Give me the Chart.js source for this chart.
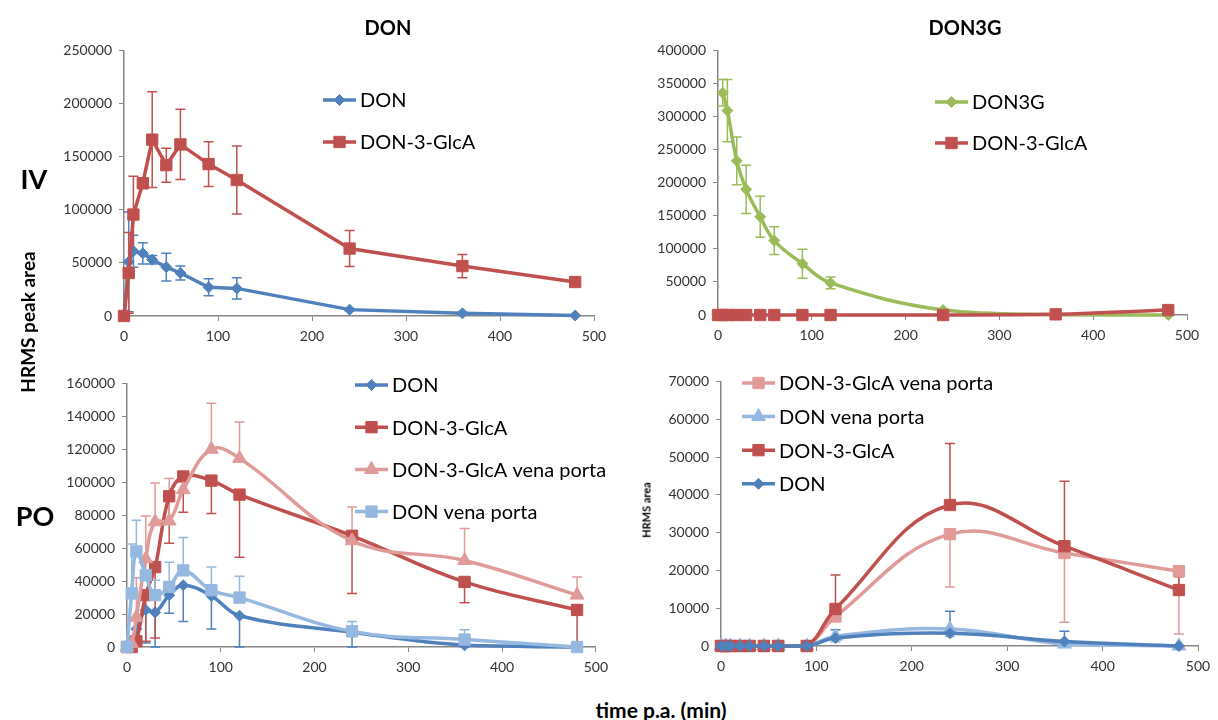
<!DOCTYPE html>
<html>
<head>
<meta charset="utf-8">
<script src="https://cdn.jsdelivr.net/npm/chart.js@4.4.1/dist/chart.umd.min.js"></script>
<style>
body { margin: 0; background: #fff; font-family: Lato, "Open Sans", sans-serif; }
#page { position: relative; width: 1218px; height: 720px; overflow: hidden; background: #fff; }
canvas { position: absolute; }
.lbl { position: absolute; font-weight: bold; color: #000; white-space: nowrap; transform: translate(-50%, -50%); }
.rot { transform: translate(-50%, -50%) rotate(-90deg); }
</style>
</head>
<body>
<div id="page">
  <canvas id="ivDonChart" width="575" height="330" style="left:40px;top:35px"></canvas>
  <canvas id="ivD3gChart" width="570" height="330" style="left:640px;top:35px"></canvas>
  <canvas id="poDonChart" width="575" height="312" style="left:40px;top:368px"></canvas>
  <canvas id="poD3gChart" width="578" height="314" style="left:640px;top:366px"></canvas>

  <div class="lbl" style="left:388px;top:27px;font-size:20px">DON</div>
  <div class="lbl" style="left:965px;top:27px;font-size:20px">DON3G</div>
  <div class="lbl" style="left:34px;top:178px;font-size:27px">IV</div>
  <div class="lbl" style="left:35px;top:515px;font-size:27px">PO</div>
  <div class="lbl rot" style="left:27px;top:322px;font-size:19px">HRMS peak area</div>
  <div class="lbl" style="left:661px;top:709px;font-size:21px">time p.a. (min)</div>
  <div class="lbl rot" style="left:646px;top:510px;font-size:11px">HRMS area</div>
</div>
<script>
// sampling times (min)
var times = [0, 5, 10, 20, 30, 45, 60, 90, 120, 240, 360, 480];

// IV - DON
var ivDon = [0, 51000, 61000, 59000, 53000, 46000, 40500, 27000, 26000, 6000, 2500, 500];
var ivDonErr = [0, 47000, 15000, 10000, 4000, 13000, 6500, 8000, 10000, 1000, 1000, 0];
var ivGlca = [0, 40500, 95500, 125000, 166000, 142000, 161500, 143000, 128000, 63500, 47000, 32000];
var ivGlcaErr = [0, 38000, 36000, 5000, 45000, 16000, 33000, 21000, 32000, 17000, 11000, 0];

// IV - DON3G
var ivD3g = [null, 336000, 309000, 233000, 190000, 148500, 112500, 77500, 48500, 7500, 500, 0];
var ivD3gErr = [0, 20000, 47000, 36000, 36500, 31000, 21000, 22000, 9000, 0, 0, 0];
var ivD3gGlca = [0, 0, 0, 0, 0, 0, 0, 0, 0, 0, 1000, 7500];

// PO - DON
var poDon = [0, 4000, 11000, 22500, 21000, 31500, 37500, 31000, 19000, 9000, 1000, 0];
var poDonErr = [0, 3000, 8000, 20000, 21000, 11000, 22000, 20000, 19000, 9000, 1000, 0];
var poGlca = [0, 0, 3500, 31500, 48500, 91500, 103500, 101000, 92500, 67500, 39500, 22500];
var poGlcaErr = [0, 0, 3000, 28000, 43000, 28600, 21700, 20000, 38000, 35000, 12600, 22500];
var poGlcaVp = [0, 2000, 18000, 53500, 76000, 76500, 95500, 120000, 114500, 64500, 52500, 31500];
var poGlcaVpErr = [0, 0, 24000, 26000, 23500, 25800, 10000, 28000, 22000, 20500, 19500, 11000];
var poDonVp = [0, 32500, 58000, 43500, 31500, 36500, 46500, 34500, 30000, 9500, 4500, 0];
var poDonVpErr = [0, 30000, 19000, 8000, 9000, 15000, 20000, 14000, 13000, 6000, 6000, 0];

// PO - DON3G
var po3Don = [0, 0, 0, 0, 0, 0, 0, 0, 2100, 3400, 1200, 0];
var po3DonErr = [0, 0, 0, 0, 0, 0, 0, 0, 2200, 5800, 2700, 0];
var po3DonVp = [0, 0, 0, 0, 0, 0, 0, 0, 2600, 4500, 500, 0];
var po3DonVpErr = [0, 0, 0, 0, 0, 0, 0, 0, 1500, 2000, 1000, 0];
var po3Glca = [0, 0, 0, 0, 0, 0, 0, 0, 9800, 37300, 26400, 14800];
var po3GlcaErr = [0, 0, 0, 0, 0, 0, 0, 0, 9000, 16300, 17200, 3500];
var po3GlcaVp = [0, 0, 0, 0, 0, 0, 0, 0, 7800, 29600, 24600, 19800];
var po3GlcaVpErr = [0, 0, 0, 0, 0, 0, 0, 0, 1000, 14000, 18300, 16600];

var BLUE = '#4F81BD', RED = '#C0504D', GREEN = '#9BBB59', LRED = '#E09A98', LBLUE = '#95B8E0';

Chart.defaults.font.family = 'Lato, "Open Sans", sans-serif';
Chart.defaults.font.size = 14;
Chart.defaults.color = '#333';

var errorBars = {
  id: 'errorBars',
  beforeDatasetsDraw: function (chart) {
    var ctx = chart.ctx, ys = chart.scales.y;
    ctx.save();
    chart.data.datasets.forEach(function (ds, i) {
      if (!ds.errors) return;
      var meta = chart.getDatasetMeta(i);
      ctx.strokeStyle = ds.borderColor;
      ctx.lineWidth = 1.5;
      ds.errors.forEach(function (e, j) {
        var v = ds.data[j].y;
        if (!e || v === null) return;
        var x = meta.data[j].x;
        var hi = ds.errDir === 'minus' ? v : v + e;
        var lo = ds.errDir === 'plus' ? v : v - e;
        var yHi = ys.getPixelForValue(Math.min(hi, ys.max));
        var yLo = ys.getPixelForValue(Math.max(lo, ys.min));
        ctx.beginPath();
        ctx.moveTo(x, yHi);
        ctx.lineTo(x, yLo);
        if (ds.errDir !== 'minus' && hi <= ys.max) { ctx.moveTo(x - 5, yHi); ctx.lineTo(x + 5, yHi); }
        if (ds.errDir !== 'plus' && lo >= ys.min) { ctx.moveTo(x - 5, yLo); ctx.lineTo(x + 5, yLo); }
        ctx.stroke();
      });
    });
    ctx.restore();
  }
};

var sideLegend = {
  id: 'sideLegend',
  afterDraw: function (chart, args, opts) {
    var ctx = chart.ctx;
    ctx.save();
    chart.data.datasets.forEach(function (ds, i) {
      var y = opts.y + i * opts.gap;
      ctx.strokeStyle = ds.borderColor;
      ctx.lineWidth = ds.borderWidth;
      ctx.beginPath();
      ctx.moveTo(opts.x, y);
      ctx.lineTo(opts.x + 33, y);
      ctx.stroke();
      ctx.fillStyle = ds.borderColor;
      ctx.lineWidth = 1;
      Chart.helpers.drawPoint(ctx, { pointStyle: ds.pointStyle, radius: ds.pointRadius, rotation: 0, borderWidth: 1 }, opts.x + 16.5, y);
      ctx.fillStyle = '#000';
      ctx.font = '20px Lato, "Open Sans", sans-serif';
      ctx.textBaseline = 'middle';
      ctx.fillText(ds.label, opts.x + 37, y + 1);
    });
    ctx.restore();
  }
};

function series(label, vals, errs, color, style, radius, dir) {
  return {
    label: label,
    data: times.map(function (t, i) { return { x: t, y: vals[i] }; }),
    errors: errs,
    errDir: dir,
    borderColor: color,
    backgroundColor: color,
    borderWidth: 3.5,
    pointStyle: style,
    pointRadius: radius,
    pointHoverRadius: radius,
    pointBackgroundColor: color,
    pointBorderColor: color,
    pointBorderWidth: 1,
    clip: false
  };
}

function panel(id, box, area, yMax, yStep, tension, datasets, legend) {
  datasets.forEach(function (d, i) { d.order = datasets.length - i; d.tension = tension; });
  var axisGrid = { drawOnChartArea: false, drawTicks: true, tickLength: 5, color: '#868686' };
  return new Chart(document.getElementById(id).getContext('2d'), {
    type: 'line',
    data: { datasets: datasets },
    options: {
      responsive: false,
      animation: false,
      layout: {
        autoPadding: false,
        padding: { left: 0, top: area.top - box.top, right: box.left + box.w - area.right, bottom: 0 }
      },
      plugins: { legend: { display: false }, tooltip: { enabled: false }, sideLegend: legend },
      scales: {
        x: {
          type: 'linear', min: 0, max: 500,
          ticks: { stepSize: 100, padding: 7 },
          grid: axisGrid,
          border: { color: '#868686', width: 1.5 },
          afterFit: function (s) { s.height = box.top + box.h - area.bottom; }
        },
        y: {
          min: 0, max: yMax,
          ticks: { stepSize: yStep, padding: 7, callback: function (v) { return v; } },
          grid: axisGrid,
          border: { color: '#868686', width: 1.5 },
          afterFit: function (s) { s.width = area.left - box.left; }
        }
      }
    },
    plugins: [errorBars, sideLegend]
  });
}

panel('ivDonChart', { left: 40, top: 35, w: 575, h: 330 }, { left: 124, top: 48, right: 594, bottom: 316 }, 250000, 50000, 0, [
  series('DON', ivDon, ivDonErr, BLUE, 'rectRot', 5.5, 'both'),
  series('DON-3-GlcA', ivGlca, ivGlcaErr, RED, 'rect', 8, 'both')
], { x: 283, y: 65, gap: 42 });

panel('ivD3gChart', { left: 640, top: 35, w: 570, h: 330 }, { left: 718, top: 47, right: 1187, bottom: 315 }, 400000, 50000, 0.4, [
  series('DON3G', ivD3g, ivD3gErr, GREEN, 'rectRot', 5.5, 'both'),
  series('DON-3-GlcA', ivD3gGlca, null, RED, 'rect', 8, 'both')
], { x: 295, y: 67, gap: 41 });

panel('poDonChart', { left: 40, top: 368, w: 575, h: 312 }, { left: 127, top: 381, right: 597, bottom: 647 }, 160000, 20000, 0.4, [
  series('DON', poDon, poDonErr, BLUE, 'rectRot', 5.5, 'minus'),
  series('DON-3-GlcA', poGlca, poGlcaErr, RED, 'rect', 8, 'minus'),
  series('DON-3-GlcA vena porta', poGlcaVp, poGlcaVpErr, LRED, 'triangle', 8, 'plus'),
  series('DON vena porta', poDonVp, poDonVpErr, LBLUE, 'rect', 8, 'plus')
], { x: 315, y: 17, gap: 42.2 });

panel('poD3gChart', { left: 640, top: 366, w: 578, h: 314 }, { left: 721, top: 378, right: 1198, bottom: 646 }, 70000, 10000, 0.4, [
  series('DON-3-GlcA vena porta', po3GlcaVp, po3GlcaVpErr, LRED, 'rect', 8, 'minus'),
  series('DON vena porta', po3DonVp, po3DonVpErr, LBLUE, 'triangle', 8, 'minus'),
  series('DON-3-GlcA', po3Glca, po3GlcaErr, RED, 'rect', 8, 'plus'),
  series('DON', po3Don, po3DonErr, BLUE, 'rectRot', 5.5, 'plus')
], { x: 102, y: 17, gap: 33.6 });
</script>
</body>
</html>
